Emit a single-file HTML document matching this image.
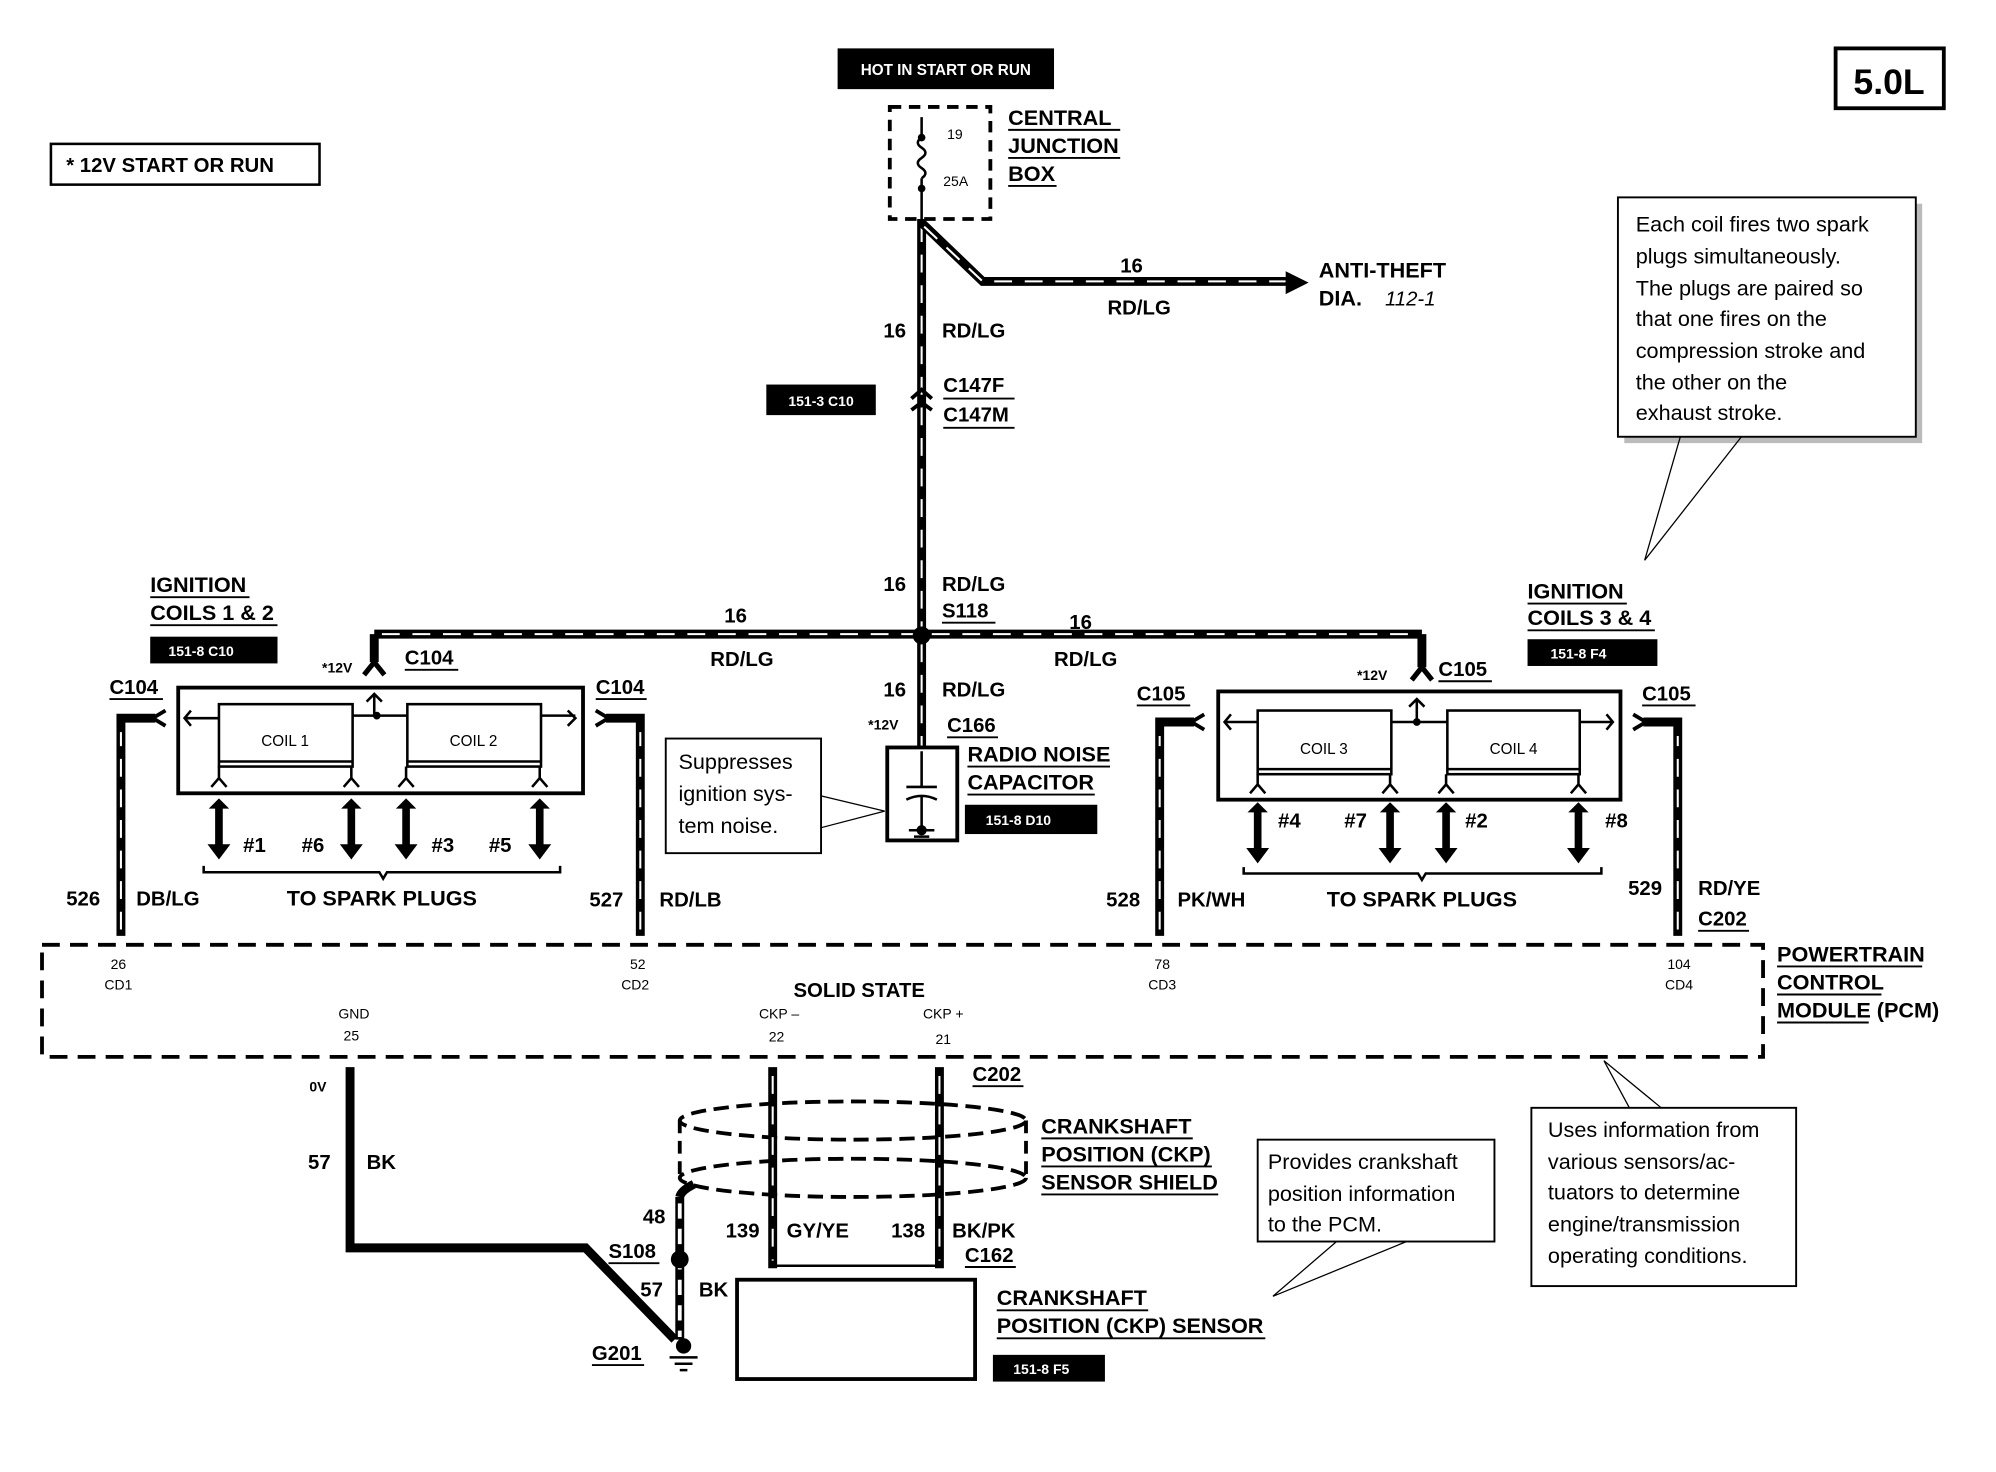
<!DOCTYPE html>
<html><head><meta charset="utf-8"><style>
html,body{margin:0;padding:0;background:#fff}
svg{display:block}
text{font-family:"Liberation Sans",Arial,sans-serif;font-weight:bold;fill:#000}
.n{font-weight:normal}
.w{stroke:#000;stroke-width:7;fill:none}
.d{stroke:#fff;stroke-width:1.6;fill:none;stroke-dasharray:14 10}
.t{stroke:#000;stroke-width:2;fill:none}
.u{stroke:#000;stroke-width:1.5}
</style></head><body>
<svg width="1996" height="1472" viewBox="0 0 1568 1156" preserveAspectRatio="none" xmlns="http://www.w3.org/2000/svg">
<rect width="1568" height="1156" fill="#fff"/>
<!-- top labels -->
<rect x="658" y="38" width="170" height="32" fill="#000"/>
<text x="743" y="59" font-size="12" text-anchor="middle" style="fill:#fff">HOT IN START OR RUN</text>
<rect x="1442" y="38" width="85" height="47" fill="none" stroke="#000" stroke-width="3"/>
<text x="1484" y="74" font-size="28" text-anchor="middle">5.0L</text>
<rect x="40" y="113" width="211" height="32" fill="none" stroke="#000" stroke-width="2"/>
<text x="52" y="135" font-size="16">*  12V START OR RUN</text>
<!-- CJB -->
<rect x="699" y="84" width="79" height="88" fill="none" stroke="#000" stroke-width="3" stroke-dasharray="9 6"/>
<line x1="724" y1="92" x2="724" y2="108" class="t"/>
<path d="M724 108 q-6 4 0 8 q6 4 0 8 q-6 4 0 8 q6 4 0 8" class="t"/>
<line x1="724" y1="140" x2="724" y2="172" class="t"/>
<circle cx="724" cy="108" r="3"/><circle cx="724" cy="148" r="3"/>
<text x="744" y="109" font-size="11" class="n">19</text>
<text x="741" y="146" font-size="11" class="n">25A</text>
<text x="792" y="98" font-size="17">CENTRAL</text><line x1="792" y1="102" x2="880" y2="102" class="u"/>
<text x="792" y="120" font-size="17">JUNCTION</text><line x1="792" y1="124" x2="880" y2="124" class="u"/>
<text x="792" y="142" font-size="17">BOX</text><line x1="792" y1="146" x2="830" y2="146" class="u"/>
<!-- main wires -->
<path d="M724 172 V500" class="w"/><path d="M724 176 V500" class="d"/>
<path d="M724 175 L772 221 H1012" class="w"/><path d="M726 178 L772 221 H1010" class="d"/>
<path d="M1010 213 L1028 222 L1010 231 Z"/>
<text x="880" y="214" font-size="16">16</text>
<text x="870" y="247" font-size="16">RD/LG</text>
<text x="1036" y="218" font-size="17">ANTI-THEFT</text>
<text x="1036" y="240" font-size="17">DIA.</text><text x="1088" y="240" font-size="16" class="n" font-style="italic">112-1</text>
<text x="694" y="265" font-size="16">16</text><text x="740" y="265" font-size="16">RD/LG</text>
<rect x="602" y="302" width="86" height="24" fill="#000"/>
<text x="645" y="319" font-size="11" text-anchor="middle" style="fill:#fff">151-3 C10</text>
<path d="M716 313 L724 306 L732 313 M716 322 L724 316 L732 322" stroke="#000" stroke-width="3" fill="none"/>
<text x="741" y="308" font-size="16">C147F</text><text x="741" y="331" font-size="16">C147M</text>
<line x1="741" y1="313" x2="797" y2="313" class="u"/><line x1="741" y1="336" x2="797" y2="336" class="u"/>
<!-- horizontal bus -->
<path d="M294 498 H1117" class="w"/><path d="M300 498 H1110" class="d"/>
<path d="M294 498 V520" class="w"/><path d="M1117 498 V524" class="w"/>
<circle cx="724" cy="499" r="7"/>
<text x="694" y="464" font-size="16">16</text><text x="740" y="464" font-size="16">RD/LG</text>
<text x="740" y="485" font-size="16">S118</text><line x1="740" y1="489" x2="782" y2="489" class="u"/>
<text x="569" y="489" font-size="16">16</text><text x="558" y="523" font-size="16">RD/LG</text>
<text x="840" y="494" font-size="16">16</text><text x="828" y="523" font-size="16">RD/LG</text>
<path d="M724 500 V588" class="w"/><path d="M724 506 V586" class="d"/>
<text x="694" y="547" font-size="16">16</text><text x="740" y="547" font-size="16">RD/LG</text>
<text x="682" y="573" font-size="11">*12V</text>
<text x="744" y="575" font-size="16">C166</text><line x1="744" y1="579" x2="784" y2="579" class="u"/>
<!-- capacitor -->
<rect x="697" y="587" width="55" height="73" fill="none" stroke="#000" stroke-width="3"/>
<path d="M724 590 V618 M712 618 H736 M712 628 Q724 622 736 628 M724 626 V652 M714 652 H734 M718 657 H730" class="t"/>
<circle cx="724" cy="652" r="4"/>
<text x="760" y="598" font-size="17">RADIO NOISE</text><line x1="760" y1="602" x2="872" y2="602" class="u"/>
<text x="760" y="620" font-size="17">CAPACITOR</text><line x1="760" y1="624" x2="860" y2="624" class="u"/>
<rect x="758" y="632" width="104" height="23" fill="#000"/>
<text x="800" y="648" font-size="11" text-anchor="middle" style="fill:#fff">151-8 D10</text>
<rect x="523" y="580" width="122" height="90" fill="#fff" stroke="#000" stroke-width="1.5"/>
<text x="533" y="604" font-size="17" class="n">Suppresses</text>
<text x="533" y="629" font-size="17" class="n">ignition sys-</text>
<text x="533" y="654" font-size="17" class="n">tem noise.</text>
<path d="M645 625 L695 637 L645 650" fill="none" stroke="#000" stroke-width="1"/>
<!-- left coils -->
<text x="118" y="465" font-size="17">IGNITION</text><line x1="118" y1="469" x2="196" y2="469" class="u"/>
<text x="118" y="487" font-size="17">COILS 1 &amp; 2</text><line x1="118" y1="491" x2="218" y2="491" class="u"/>
<rect x="118" y="500" width="100" height="21" fill="#000"/>
<text x="158" y="515" font-size="11" text-anchor="middle" style="fill:#fff">151-8 C10</text>
<text x="253" y="528" font-size="11">*12V</text>
<text x="318" y="522" font-size="16">C104</text><line x1="318" y1="526" x2="360" y2="526" class="u"/>
<path d="M286 530 L294 520 L302 530" stroke="#000" stroke-width="4" fill="none"/>
<rect x="140" y="540" width="318" height="83" fill="none" stroke="#000" stroke-width="3"/>
<rect x="172" y="553" width="105" height="49" fill="none" stroke="#000" stroke-width="2"/>
<rect x="320" y="553" width="105" height="49" fill="none" stroke="#000" stroke-width="2"/>
<line x1="172" y1="598" x2="277" y2="598" class="t"/><line x1="320" y1="598" x2="425" y2="598" class="t"/>
<text x="224" y="586" font-size="12" text-anchor="middle" class="n">COIL 1</text>
<text x="372" y="586" font-size="12" text-anchor="middle" class="n">COIL 2</text>
<path d="M146 564 H172 M277 562 H320 M425 562 H452 M294 562 V545 M288 551 L294 545 L300 551 M150 558 L145 564 L150 570 M446 558 L452 564 L446 570" class="t" fill="none"/>
<circle cx="296" cy="562" r="3"/>
<path d="M166 618 L172 611 L178 618 M270 618 L276 611 L282 618 M313 618 L319 611 L325 618 M418 618 L424 611 L430 618 M172 602 V611 M276 602 V611 M319 602 V611 M424 602 V611" class="t"/>
<g fill="#000">
<path d="M172 627 l-8 8 h5 v28 h-6 l9 12 l9 -12 h-6 v-28 h5 z"/>
<path d="M276 627 l-8 8 h5 v28 h-6 l9 12 l9 -12 h-6 v-28 h5 z"/>
<path d="M319 627 l-8 8 h5 v28 h-6 l9 12 l9 -12 h-6 v-28 h5 z"/>
<path d="M424 627 l-8 8 h5 v28 h-6 l9 12 l9 -12 h-6 v-28 h5 z"/>
</g>
<text x="191" y="669" font-size="16">#1</text><text x="237" y="669" font-size="16">#6</text>
<text x="339" y="669" font-size="16">#3</text><text x="384" y="669" font-size="16">#5</text>
<path d="M160 680 v5 H298 l3 5 l3 -5 H440 v-5" class="t"/>
<text x="300" y="711" font-size="17" text-anchor="middle">TO SPARK PLUGS</text>
<path d="M95 735 V564 H122" class="w"/><path d="M95 730 V575" class="d"/>
<path d="M503 735 V564 H476" class="w"/><path d="M503 730 V575" class="d"/>
<path d="M130 558 L120 564 L130 570 M468 558 L478 564 L468 570" stroke="#000" stroke-width="3" fill="none"/>
<text x="86" y="545" font-size="16">C104</text><line x1="86" y1="549" x2="128" y2="549" class="u"/>
<text x="468" y="545" font-size="16">C104</text><line x1="468" y1="549" x2="508" y2="549" class="u"/>
<text x="52" y="711" font-size="16">526</text><text x="107" y="711" font-size="16">DB/LG</text>
<text x="463" y="712" font-size="16">527</text><text x="518" y="712" font-size="16">RD/LB</text>
<!-- right coils -->
<text x="1200" y="470" font-size="17">IGNITION</text><line x1="1200" y1="474" x2="1278" y2="474" class="u"/>
<text x="1200" y="491" font-size="17">COILS 3 &amp; 4</text><line x1="1200" y1="495" x2="1300" y2="495" class="u"/>
<rect x="1200" y="502" width="102" height="21" fill="#000"/>
<text x="1240" y="517" font-size="11" text-anchor="middle" style="fill:#fff">151-8 F4</text>
<text x="1066" y="534" font-size="11">*12V</text>
<text x="1130" y="531" font-size="16">C105</text><line x1="1130" y1="535" x2="1172" y2="535" class="u"/>
<path d="M1109 534 L1117 524 L1125 534" stroke="#000" stroke-width="4" fill="none"/>
<rect x="957" y="543" width="316" height="85" fill="none" stroke="#000" stroke-width="3"/>
<rect x="988" y="558" width="105" height="50" fill="none" stroke="#000" stroke-width="2"/>
<rect x="1137" y="558" width="104" height="50" fill="none" stroke="#000" stroke-width="2"/>
<line x1="988" y1="604" x2="1093" y2="604" class="t"/><line x1="1137" y1="604" x2="1241" y2="604" class="t"/>
<text x="1040" y="592" font-size="12" text-anchor="middle" class="n">COIL 3</text>
<text x="1189" y="592" font-size="12" text-anchor="middle" class="n">COIL 4</text>
<path d="M963 567 H988 M1093 567 H1137 M1241 567 H1267 M1113 567 V549 M1107 555 L1113 549 L1119 555 M967 561 L962 567 L967 573 M1262 561 L1267 567 L1262 573" class="t"/>
<circle cx="1113" cy="567" r="3"/>
<path d="M982 623 L988 616 L994 623 M1086 623 L1092 616 L1098 623 M1130 623 L1136 616 L1142 623 M1234 623 L1240 616 L1246 623 M988 608 V616 M1092 608 V616 M1136 608 V616 M1240 608 V616" class="t"/>
<g fill="#000">
<path d="M988 630 l-8 8 h5 v28 h-6 l9 12 l9 -12 h-6 v-28 h5 z"/>
<path d="M1092 630 l-8 8 h5 v28 h-6 l9 12 l9 -12 h-6 v-28 h5 z"/>
<path d="M1136 630 l-8 8 h5 v28 h-6 l9 12 l9 -12 h-6 v-28 h5 z"/>
<path d="M1240 630 l-8 8 h5 v28 h-6 l9 12 l9 -12 h-6 v-28 h5 z"/>
</g>
<text x="1004" y="650" font-size="16">#4</text><text x="1056" y="650" font-size="16">#7</text>
<text x="1151" y="650" font-size="16">#2</text><text x="1261" y="650" font-size="16">#8</text>
<path d="M977 681 v5 H1114 l3 5 l3 -5 H1258 v-5" class="t"/>
<text x="1117" y="712" font-size="17" text-anchor="middle">TO SPARK PLUGS</text>
<path d="M911 735 V567 H938" class="w"/><path d="M911 730 V578" class="d"/>
<path d="M1318 735 V567 H1291" class="w"/><path d="M1318 730 V578" class="d"/>
<path d="M946 561 L936 567 L946 573 M1283 561 L1293 567 L1283 573" stroke="#000" stroke-width="3" fill="none"/>
<text x="893" y="550" font-size="16">C105</text><line x1="893" y1="554" x2="935" y2="554" class="u"/>
<text x="1290" y="550" font-size="16">C105</text><line x1="1290" y1="554" x2="1332" y2="554" class="u"/>
<text x="869" y="712" font-size="16">528</text><text x="925" y="712" font-size="16">PK/WH</text>
<text x="1279" y="703" font-size="16">529</text><text x="1334" y="703" font-size="16">RD/YE</text>
<text x="1334" y="727" font-size="16">C202</text><line x1="1334" y1="731" x2="1374" y2="731" class="u"/>
<!-- PCM -->
<rect x="33" y="742" width="1352" height="88" fill="none" stroke="#000" stroke-width="3" stroke-dasharray="14 8"/>
<g font-size="11" class="n" text-anchor="middle">
<text x="93" y="761" class="n">26</text><text x="93" y="777" class="n">CD1</text>
<text x="501" y="761" class="n">52</text><text x="499" y="777" class="n">CD2</text>
<text x="913" y="761" class="n">78</text><text x="913" y="777" class="n">CD3</text>
<text x="1319" y="761" class="n">104</text><text x="1319" y="777" class="n">CD4</text>
<text x="278" y="800" class="n">GND</text><text x="276" y="817" class="n">25</text>
<text x="612" y="800" class="n">CKP –</text><text x="610" y="818" class="n">22</text>
<text x="741" y="800" class="n">CKP +</text><text x="741" y="820" class="n">21</text>
</g>
<text x="675" y="783" font-size="16" text-anchor="middle">SOLID STATE</text>
<text x="1396" y="755" font-size="17">POWERTRAIN</text><line x1="1396" y1="759" x2="1510" y2="759" class="u"/>
<text x="1396" y="777" font-size="17">CONTROL</text><line x1="1396" y1="781" x2="1478" y2="781" class="u"/>
<text x="1396" y="799" font-size="17">MODULE (PCM)</text><line x1="1396" y1="803" x2="1468" y2="803" class="u"/>
<!-- notes -->
<rect x="1276" y="160" width="234" height="188" fill="#bbb"/>
<rect x="1271" y="155" width="234" height="188" fill="#fff" stroke="#000" stroke-width="1.5"/>
<g font-size="17" class="n">
<text x="1285" y="182" class="n">Each coil fires two spark</text>
<text x="1285" y="207" class="n">plugs simultaneously.</text>
<text x="1285" y="232" class="n">The plugs are paired so</text>
<text x="1285" y="256" class="n">that one fires on the</text>
<text x="1285" y="281" class="n">compression stroke and</text>
<text x="1285" y="306" class="n">the other on the</text>
<text x="1285" y="330" class="n">exhaust stroke.</text>
</g>
<path d="M1320 343 L1292 440 L1368 343" fill="none" stroke="#000" stroke-width="1"/>
<rect x="1203" y="870" width="208" height="140" fill="#fff" stroke="#000" stroke-width="1.5"/>
<g font-size="17" class="n">
<text x="1216" y="893" class="n">Uses information from</text>
<text x="1216" y="918" class="n">various sensors/ac-</text>
<text x="1216" y="942" class="n">tuators to determine</text>
<text x="1216" y="967" class="n">engine/transmission</text>
<text x="1216" y="992" class="n">operating conditions.</text>
</g>
<path d="M1280 870 L1260 833 L1305 870" fill="none" stroke="#000" stroke-width="1"/>
<rect x="988" y="895" width="186" height="80" fill="#fff" stroke="#000" stroke-width="1.5"/>
<g font-size="17" class="n">
<text x="996" y="918" class="n">Provides crankshaft</text>
<text x="996" y="943" class="n">position information</text>
<text x="996" y="967" class="n">to the PCM.</text>
</g>
<path d="M1050 975 L1000 1018 L1105 975" fill="none" stroke="#000" stroke-width="1"/>
<!-- bottom -->
<path d="M275 838 V980 H460 L530 1052" class="w"/>
<text x="243" y="857" font-size="11">0V</text>
<text x="242" y="918" font-size="16">57</text><text x="288" y="918" font-size="16">BK</text>
<ellipse cx="670" cy="880" rx="136" ry="15" fill="none" stroke="#000" stroke-width="3" stroke-dasharray="12 6"/>
<ellipse cx="670" cy="925" rx="136" ry="15" fill="none" stroke="#000" stroke-width="3" stroke-dasharray="12 6"/>
<path d="M534 880 V925 M806 880 V925" stroke="#000" stroke-width="3" fill="none" stroke-dasharray="10 6"/>
<path d="M607 838 V996" class="w"/><path d="M607 845 V990" class="d"/>
<path d="M738 838 V996" class="w"/><path d="M738 845 V990" class="d"/>
<path d="M607 994 H738" class="t"/>
<path d="M534 940 Q535 935 545 930 M534 940 V1052" class="w"/><path d="M534 945 V1050" stroke="#fff" stroke-width="3" stroke-dasharray="12 8"/>
<circle cx="534" cy="989" r="7"/>
<text x="505" y="961" font-size="16">48</text>
<text x="478" y="988" font-size="16">S108</text><line x1="478" y1="992" x2="518" y2="992" class="u"/>
<text x="503" y="1018" font-size="16">57</text><text x="549" y="1018" font-size="16">BK</text>
<circle cx="537" cy="1057" r="6"/>
<path d="M526 1066 H548 M530 1071 H544 M534 1076 H540" class="t"/>
<text x="465" y="1068" font-size="16">G201</text><line x1="465" y1="1072" x2="506" y2="1072" class="u"/>
<text x="570" y="972" font-size="16">139</text><text x="618" y="972" font-size="16">GY/YE</text>
<text x="700" y="972" font-size="16">138</text><text x="748" y="972" font-size="16">BK/PK</text>
<text x="758" y="991" font-size="16">C162</text><line x1="758" y1="995" x2="798" y2="995" class="u"/>
<text x="764" y="849" font-size="16">C202</text><line x1="764" y1="853" x2="804" y2="853" class="u"/>
<text x="818" y="890" font-size="17">CRANKSHAFT</text><line x1="818" y1="894" x2="937" y2="894" class="u"/>
<text x="818" y="912" font-size="17">POSITION (CKP)</text><line x1="818" y1="916" x2="952" y2="916" class="u"/>
<text x="818" y="934" font-size="17">SENSOR SHIELD</text><line x1="818" y1="938" x2="957" y2="938" class="u"/>
<rect x="579" y="1005" width="187" height="78" fill="none" stroke="#000" stroke-width="3"/>
<text x="783" y="1025" font-size="17">CRANKSHAFT</text><line x1="783" y1="1029" x2="902" y2="1029" class="u"/>
<text x="783" y="1047" font-size="17">POSITION (CKP) SENSOR</text><line x1="783" y1="1051" x2="994" y2="1051" class="u"/>
<rect x="780" y="1064" width="88" height="21" fill="#000"/>
<text x="818" y="1079" font-size="11" text-anchor="middle" style="fill:#fff">151-8 F5</text>
</svg>
</body></html>
